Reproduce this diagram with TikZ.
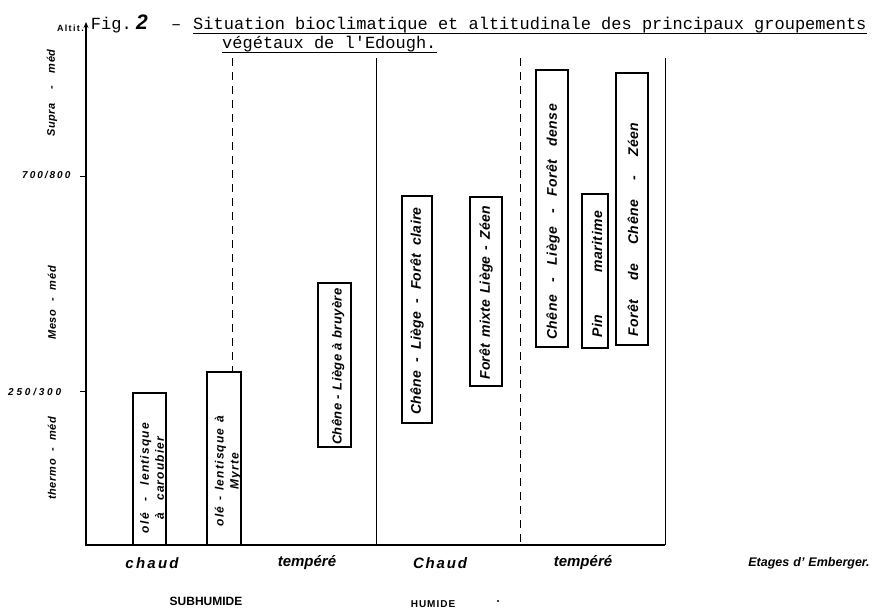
\documentclass[tikz,border=0pt]{standalone}
\usepackage{fontspec}
\newfontfamily\twfont{Liberation Mono}
\newfontfamily\handfont{Liberation Sans}
\usetikzlibrary{calc,arrows.meta}
\newcommand\handf[3]{\handfont\bfseries\itshape\fontsize{#1}{15}\selectfont\addfontfeatures{LetterSpace=#2}\spaceskip=#3pt plus 1pt\relax}
\newcommand\capsf[2]{\handfont\bfseries\fontsize{#1}{14}\selectfont\addfontfeatures{LetterSpace=#2}}
\tikzset{
 bar/.style={draw, line width=1.3pt, inner sep=0pt},
 btxt/.style={rotate=90, inner sep=0pt, anchor=west},
 axisline/.style={line width=1.6pt},
 sepline/.style={line width=1pt},
 dsepline/.style={line width=1pt, dash pattern=on 8pt off 6pt},
 uline/.style={line width=1pt},
 ttl/.style={font=\twfont\fontsize{17}{20}\selectfont, inner sep=0pt, anchor=base west},
 lab/.style={inner sep=0pt},
}
\begin{document}
\begin{tikzpicture}[x=1pt,y=-1pt]
\useasboundingbox (0,0) rectangle (875,613);
\fill[white] (0,0) rectangle (875,613);

% title
\node[ttl, anchor=base east] (fig) at (132,29) {Fig.};
\node[inner sep=0pt, anchor=base west, font=\handfont\itshape\bfseries\fontsize{21}{24}\selectfont] (num) at (136,29) {2};
\node[ttl] (dash) at (171,29) {–};
\node[ttl] (t1) at (193,29) {Situation bioclimatique et altitudinale des principaux groupements};
\node[ttl] (t2) at (222,48) {végétaux de l'Edough.};
\draw[uline] ($(t1.base west)+(0,4)$) -- ($(t1.base east)+(0,4)$);
\draw[uline] ($(t2.base west)+(0,4)$) -- ($(t2.base east)+(0,4)$);

% axes
\coordinate (O) at (86,545);
\coordinate (Ytop) at (86,22);
\coordinate (Xend) at (665,545);
\draw[axisline, -{Stealth[length=6pt,width=5pt]}] (Xend) -- (O) -- (Ytop);

% ticks
\coordinate (k1) at (80,176); \coordinate (k1e) at (86,176);
\coordinate (k2) at (80,391); \coordinate (k2e) at (86,391);
\draw[sepline] (k1) -- (k1e);
\draw[sepline] (k2) -- (k2e);

% bars
\node[bar, minimum width=33pt, minimum height=152pt] (b1) at (149.5,469) {};
\node[bar, minimum width=34pt, minimum height=173pt] (b2) at (224,458.5) {};
\node[bar, minimum width=33pt, minimum height=164pt] (b3) at (334.5,365) {};
\node[bar, minimum width=30pt, minimum height=227pt] (b4) at (417,309.5) {};
\node[bar, minimum width=32pt, minimum height=189pt] (b5) at (486,291.5) {};
\node[bar, minimum width=32pt, minimum height=277pt] (b6) at (552,208.5) {};
\node[bar, minimum width=26pt, minimum height=154pt] (b7) at (595,271) {};
\node[bar, minimum width=32pt, minimum height=272pt] (b8) at (632,209) {};

% separators
\coordinate (s1) at (232,58);
\coordinate (s2) at (376,58); \coordinate (s2b) at (376,545);
\coordinate (s3) at (520,58); \coordinate (s3b) at (520,545);
\coordinate (s4) at (665,58);
\draw[dsepline] (s1) -- (s1 |- b2.north);
\draw[sepline] (s2) -- (s2b);
\draw[dsepline] (s3) -- (s3b);
\draw[sepline] (s4) -- (Xend);

% bar texts
\node[btxt, anchor=center, align=center, font=\handf{12}{10}{12}] (tb1) at (152,478) {olé - lentisque\\à caroubier};
\node[btxt, anchor=center, align=center, font=\handf{12}{10}{6}] (tb2) at (228,471) {olé - lentisque à\\Myrte};
\node[btxt, font=\handf{13}{3}{4.5}] (tb3) at (338,445) {Chêne - Liège à bruyère};
\node[btxt, font=\handf{14}{2}{8.5}] (tb4) at (417,415) {Chêne - Liège - Forêt claire};
\node[btxt, font=\handf{14}{2}{6}] (tb5) at (486,380) {Forêt mixte Liège - Zéen};
\node[btxt, font=\handf{14}{4}{12.5}] (tb6) at (553,340) {Chêne - Liège - Forêt dense};
\node[btxt, font=\handf{14}{4}{42}] (tb7) at (597,338) {Pin maritime};
\node[btxt, font=\handf{14}{4}{19}] (tb8) at (633,337) {Forêt de Chêne - Zéen};

% left labels
\node[btxt, font=\handf{11}{6}{13}] (supra) at (52,137) {Supra - méd};
\node[btxt, font=\handf{11}{6}{8}] (meso) at (52,340) {Meso - méd};
\node[btxt, font=\handf{11}{6}{7.5}] (thermo) at (52,500) {thermo - méd};
\node[lab, anchor=west, font=\handf{10}{20}{3}] (l700) at (22,175) {700/800};
\node[lab, anchor=west, font=\handf{10}{28}{3}] (l250) at (8,392) {250/300};
\node[lab, anchor=east, font=\capsf{9}{15}] (alt) at (84,28) {Altit.};

% bottom labels
\node[lab, font=\handf{15}{15}{5}] (ch1) at (152,563) {chaud};
\node[lab, font=\handf{15}{0}{5}] (te1) at (307,563) {tempéré};
\node[lab, font=\handf{15}{12}{5}] (ch2) at (440,563) {Chaud};
\node[lab, font=\handf{15}{0}{5}] (te2) at (583,563) {tempéré};
\node[lab, font=\handf{12.5}{0}{4}] (emb) at (809,563) {Etages d’ Emberger.};
\node[lab, font=\capsf{12}{0}] (sub) at (206,601) {SUBHUMIDE};
\node[lab, font=\capsf{10}{10}] (hum) at (433,604) {HUMIDE};
\fill (498,601) circle (1.2);
\end{tikzpicture}
\end{document}
